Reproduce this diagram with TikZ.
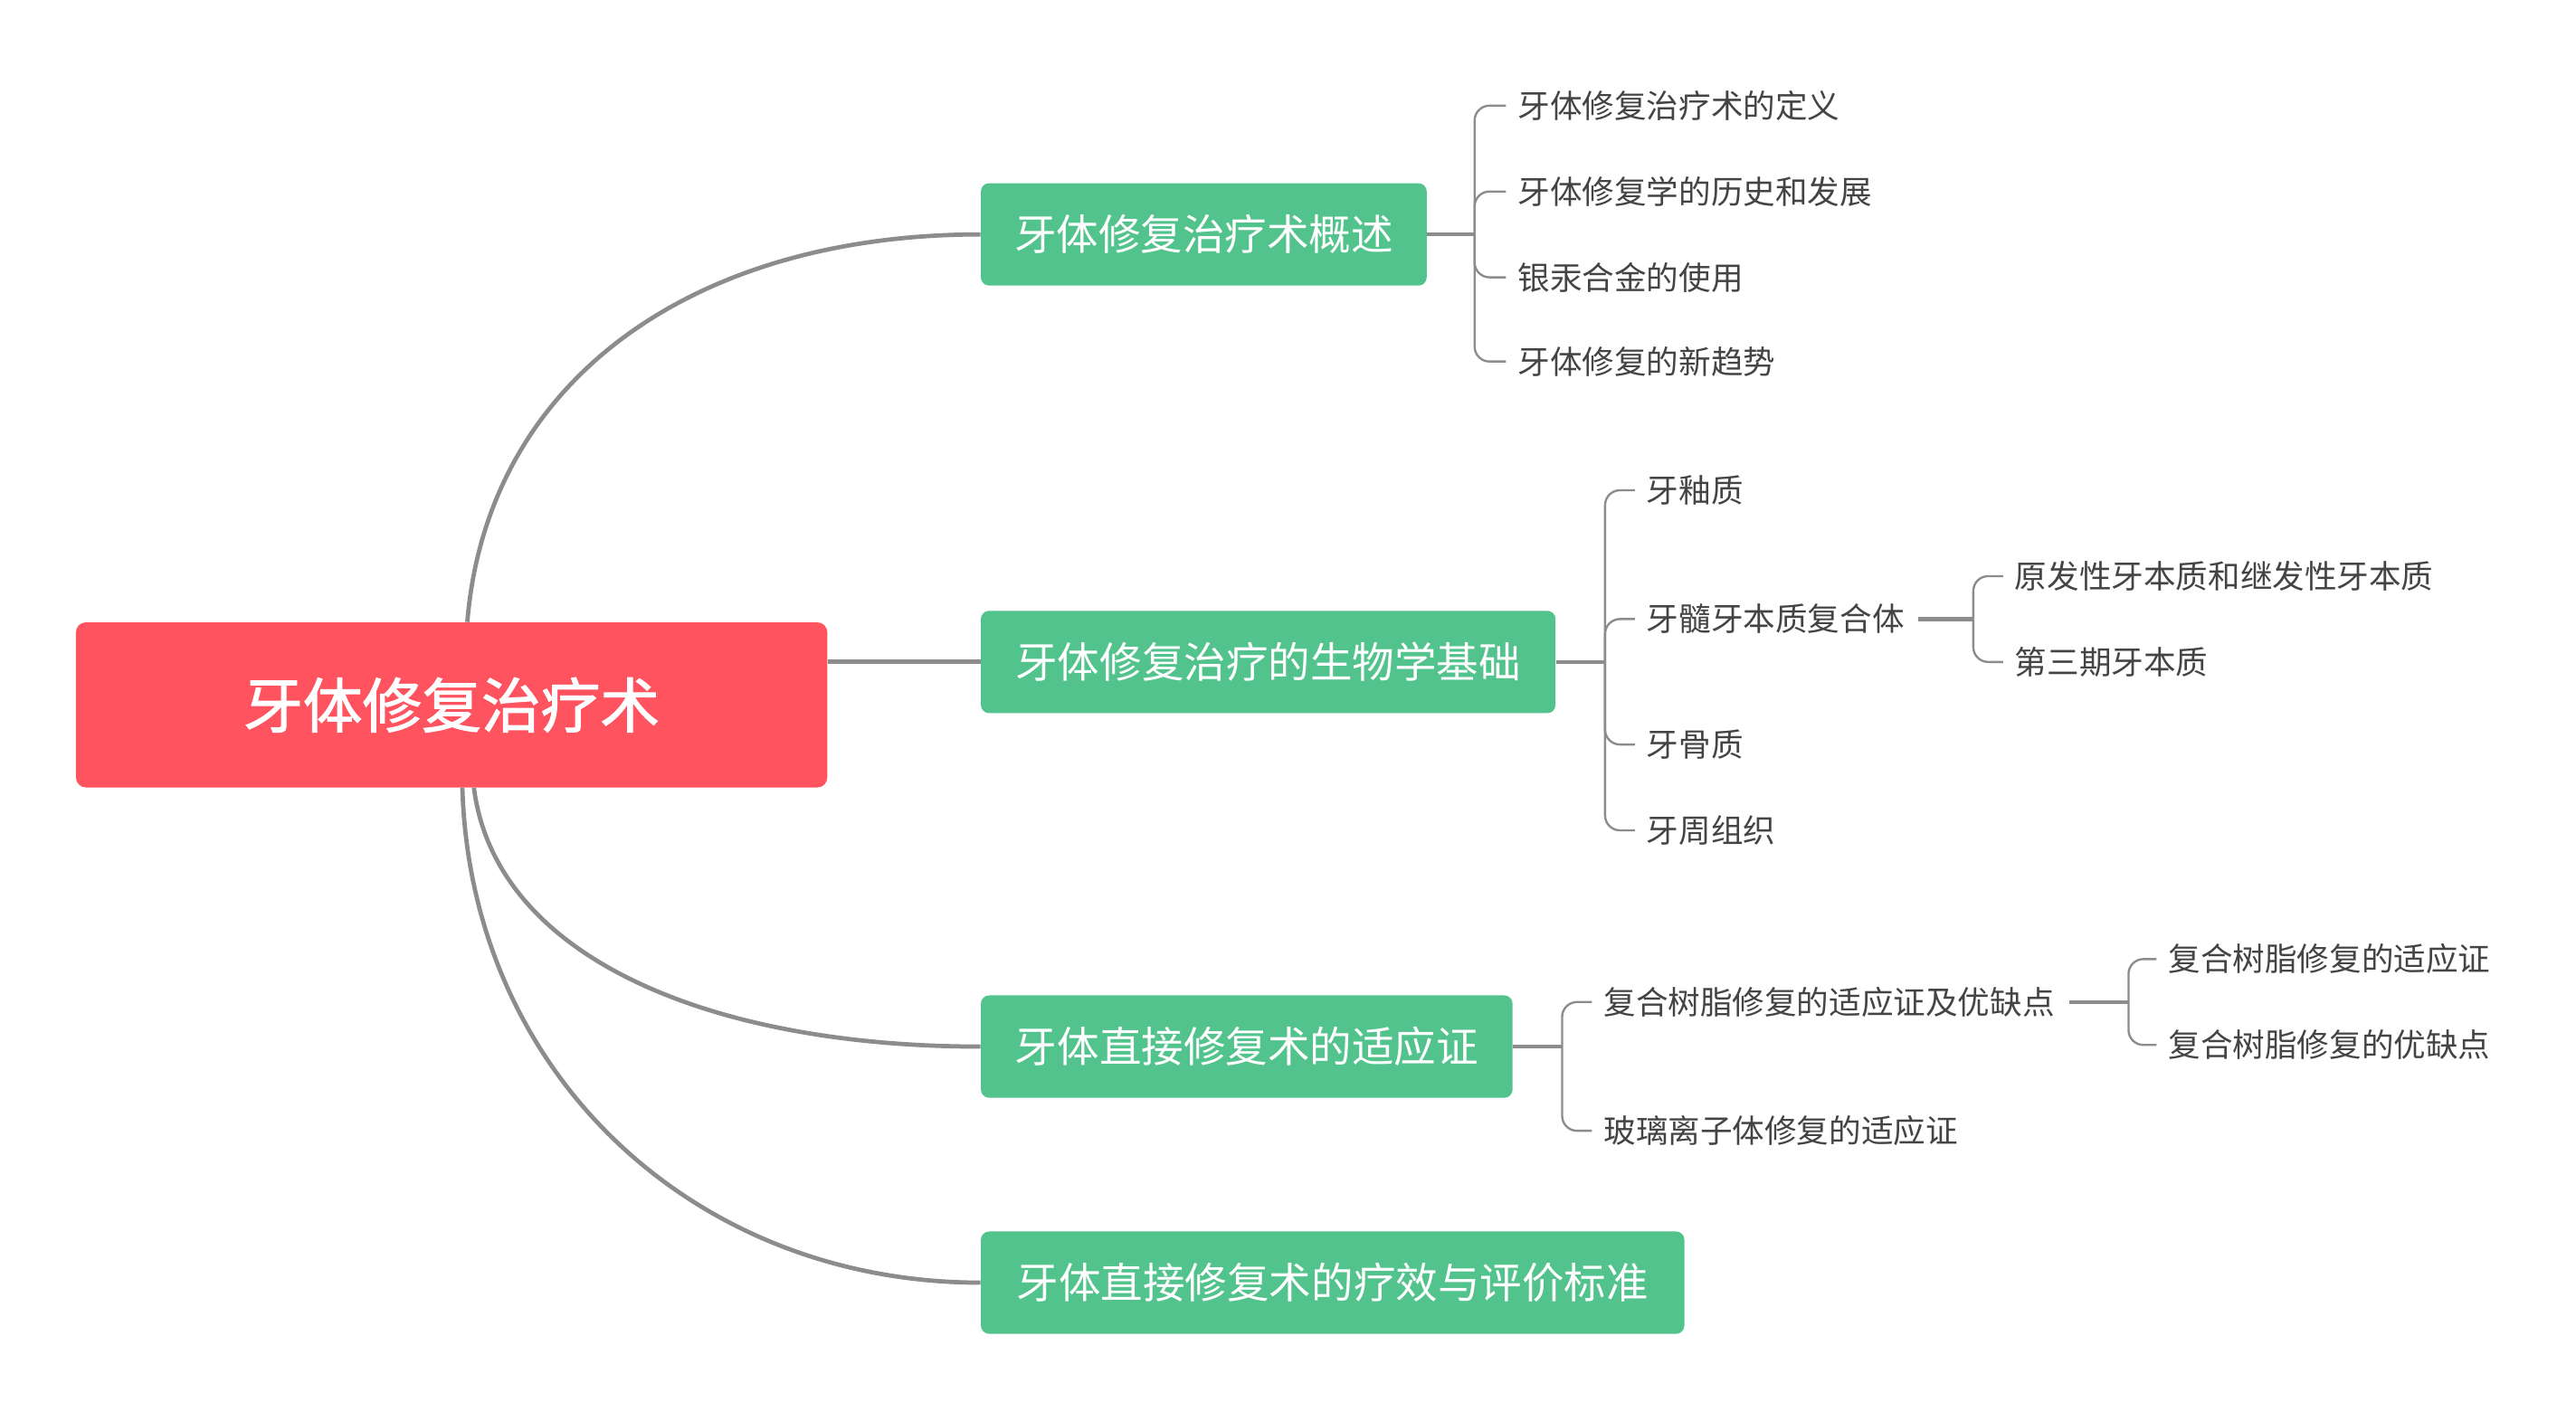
\documentclass[tikz,border=0pt]{standalone}
\usepackage{fontspec}
\setmainfont{Noto Sans CJK SC}
\newfontfamily\rootfont[FakeBold=1.6]{Noto Sans CJK SC}
\definecolor{rootred}{RGB}{255,84,96}
\definecolor{branchgreen}{RGB}{82,195,140}
\definecolor{linegray}{RGB}{140,140,140}
\definecolor{leafgray}{RGB}{68,68,68}
\begin{document}
\begin{tikzpicture}[x=1pt,y=-1pt,
  root/.style={fill=rootred, rounded corners=6pt, text=white, font=\rootfont\fontsize{36}{40}\selectfont, minimum width=455pt, minimum height=100pt, inner sep=0pt},
  branch/.style={fill=branchgreen, rounded corners=5pt, text=white, font=\fontsize{25.5}{30}\selectfont, minimum height=62pt, inner sep=0pt},
  leaf/.style={anchor=west, inner sep=0pt, text=leafgray, font=\fontsize{19.5}{22}\selectfont},
  mainline/.style={draw=linegray, line width=2.6pt},
  stub/.style={draw=linegray, line width=2.4pt},
  twig/.style={draw=linegray, line width=1.3pt, rounded corners=9pt},
]
\useasboundingbox (0,0) rectangle (1560,849.3);
\fill[white] (0,0) rectangle (1560,849.3);

% root and branches
\node[root] (root) at (273.5,427) {牙体修复治疗术};
\node[branch, minimum width=270pt] (b1) at (729,142) {牙体修复治疗术概述};
\node[branch, minimum width=348pt] (b2) at (768,401) {牙体修复治疗的生物学基础};
\node[branch, minimum width=322pt] (b3) at (755,634) {牙体直接修复术的适应证};
\node[branch, minimum width=426pt] (b4) at (807,777) {牙体直接修复术的疗效与评价标准};

% main connectors
\draw[mainline] ([xshift=9.5pt]root.north) .. controls (295,230) and (420,142) .. (b1.west);
\draw[mainline] (root.east |- b2.west) -- (b2.west);
\draw[mainline] ([xshift=13.5pt]root.south) .. controls (300,580) and (430,634) .. (b3.west);
\draw[mainline] ([xshift=6.5pt]root.south) .. controls (285,650) and (420,777) .. (b4.west);

% branch 1 leaves
\node[leaf] (l11) at (919,64) {牙体修复治疗术的定义};
\node[leaf] (l12) at (919,116) {牙体修复学的历史和发展};
\node[leaf] (l13) at (919,168) {银汞合金的使用};
\node[leaf] (l14) at (919,219) {牙体修复的新趋势};
\coordinate (s1) at (893,142);
\draw[stub] (b1.east) -- (s1);
\foreach \c in {l11,l12,l13,l14}
  \draw[twig] (s1) -- (s1 |- \c.west) -- ([xshift=-7pt]\c.west);

% branch 2 leaves
\node[leaf] (l21) at (997,297) {牙釉质};
\node[leaf] (l22) at (997,375) {牙髓牙本质复合体};
\node[leaf] (l23) at (997,451) {牙骨质};
\node[leaf] (l24) at (997,503) {牙周组织};
\coordinate (s2) at (972,401);
\draw[stub] (b2.east) -- (s2);
\foreach \c in {l21,l22,l23,l24}
  \draw[twig] (s2) -- (s2 |- \c.west) -- ([xshift=-7pt]\c.west);

% sub-leaves of l22
\node[leaf] (l221) at (1220,349) {原发性牙本质和继发性牙本质};
\node[leaf] (l222) at (1220,401) {第三期牙本质};
\coordinate (s22) at (1195,375);
\draw[stub] ([xshift=8pt]l22.east) -- (s22);
\foreach \c in {l221,l222}
  \draw[twig] (s22) -- (s22 |- \c.west) -- ([xshift=-7pt]\c.west);

% branch 3 leaves
\node[leaf] (l31) at (971,607) {复合树脂修复的适应证及优缺点};
\node[leaf] (l32) at (971,685) {玻璃离子体修复的适应证};
\coordinate (s3) at (946,634);
\draw[stub] (b3.east) -- (s3);
\foreach \c in {l31,l32}
  \draw[twig] (s3) -- (s3 |- \c.west) -- ([xshift=-7pt]\c.west);

% sub-leaves of l31
\node[leaf] (l311) at (1313,581) {复合树脂修复的适应证};
\node[leaf] (l312) at (1313,633) {复合树脂修复的优缺点};
\coordinate (s31) at (1289,607);
\draw[stub] ([xshift=9pt]l31.east) -- (s31);
\foreach \c in {l311,l312}
  \draw[twig] (s31) -- (s31 |- \c.west) -- ([xshift=-7pt]\c.west);
\end{tikzpicture}
\end{document}
